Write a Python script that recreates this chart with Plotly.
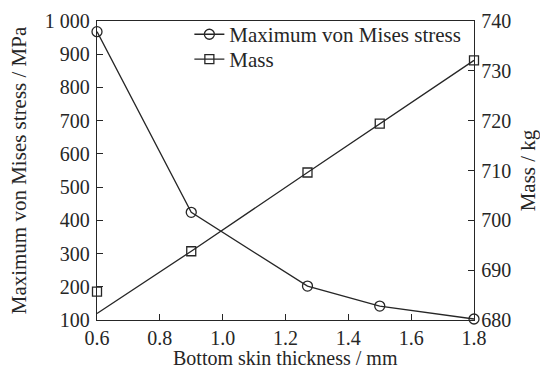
import plotly.graph_objects as go

# Bottom skin thickness (mm)
thickness = [0.6, 0.9, 1.27, 1.5, 1.8]
# Maximum von Mises stress (MPa)
stress = [968, 424, 202, 142, 103]
# Mass (kg): plotted markers and the connecting polyline
mass_points = [685.7, 693.8, 709.6, 719.4, 732.1]
mass_line = [681.3, 693.8, 709.6, 719.4, 732.1]

x_ticks = [0.6, 0.8, 1.0, 1.2, 1.4, 1.6, 1.8]
x_ticktext = ["0.6", "0.8", "1.0", "1.2", "1.4", "1.6", "1.8"]
stress_ticks = [100, 200, 300, 400, 500, 600, 700, 800, 900, 1000]
stress_ticktext = ["100", "200", "300", "400", "500", "600", "700", "800", "900", "1 000"]
mass_ticks = [680, 690, 700, 710, 720, 730, 740]

INK = "#262626"
FONT = "Liberation Serif, Times New Roman, DejaVu Serif, serif"
TICK_FS = 20
TITLE_FS = 21

fig = go.Figure()

fig.add_trace(go.Scatter(
    x=thickness, y=stress, mode="lines+markers",
    name="Maximum von Mises stress", legend="legend",
    line=dict(color=INK, width=1.3),
    marker=dict(symbol="circle-open", size=10, color=INK, line=dict(width=1.3)),
    cliponaxis=False,
))

fig.add_trace(go.Scatter(
    x=thickness, y=mass_line, mode="lines", yaxis="y2",
    line=dict(color=INK, width=1.3), showlegend=False, cliponaxis=False,
))
fig.add_trace(go.Scatter(
    x=thickness, y=mass_points, mode="markers", yaxis="y2",
    marker=dict(symbol="square-open", size=9, color=INK, line=dict(width=1.3)),
    showlegend=False, cliponaxis=False,
))
# legend entry for the mass series
fig.add_trace(go.Scatter(
    x=[None], y=[None], mode="lines+markers", name="Mass", yaxis="y2",
    legend="legend2",
    line=dict(color=INK, width=1.3),
    marker=dict(symbol="square-open", size=9, color=INK, line=dict(width=1.3)),
))

axis_common = dict(
    showline=True, linecolor=INK, linewidth=1.3,
    ticks="inside", ticklen=6, tickwidth=1.3, tickcolor=INK,
    showgrid=False, zeroline=False, automargin=False,
    tickfont=dict(family=FONT, size=TICK_FS, color=INK),
)

legend_common = dict(
    xanchor="left", yanchor="top",
    bgcolor="rgba(0,0,0,0)", borderwidth=0,
    font=dict(family=FONT, size=TITLE_FS, color=INK),
    itemwidth=30,
)

fig.update_layout(
    width=540, height=370,
    margin=dict(l=97, r=66, t=21, b=50),
    paper_bgcolor="white", plot_bgcolor="white",
    font=dict(family=FONT, size=TITLE_FS, color=INK),
    xaxis=dict(
        range=[0.6, 1.8], tickvals=x_ticks, ticktext=x_ticktext, mirror=True,
        ticklabelstandoff=0,
        **axis_common,
    ),
    yaxis=dict(
        range=[100, 1000], tickvals=stress_ticks, ticktext=stress_ticktext,
        ticklabelstandoff=2,
        title=dict(text="Maximum von Mises stress / MPa", standoff=12,
                   font=dict(family=FONT, size=TITLE_FS, color=INK)),
        **axis_common,
    ),
    yaxis2=dict(
        range=[680, 740], tickvals=mass_ticks, overlaying="y", side="right",
        ticklabelstandoff=2,
        title=dict(text="Mass / kg", standoff=15,
                   font=dict(family=FONT, size=TITLE_FS, color=INK)),
        **axis_common,
    ),
    legend=dict(x=0.245, y=1.023, **legend_common),
    legend2=dict(x=0.245, y=0.940, **legend_common),
    showlegend=True,
    annotations=[dict(
        text="Bottom skin thickness / mm", xref="paper", yref="paper",
        x=0.5, y=-0.128, xanchor="center", yanchor="middle", showarrow=False,
        font=dict(family=FONT, size=20, color=INK),
    )],
)

fig.write_html("out.html")
